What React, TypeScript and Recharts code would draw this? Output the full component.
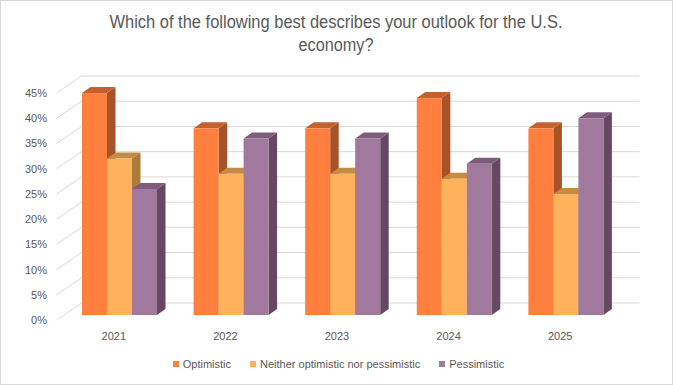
import React from 'react';
import { BarChart, Bar, XAxis, YAxis, CartesianGrid, Legend } from 'recharts';

const years = ['2021', '2022', '2023', '2024', '2025'];
const optimistic = [44, 37, 37, 43, 37];
const neither = [31, 28, 28, 27, 24];
const pessimistic = [25, 35, 35, 30, 39];
const yTicks = [0, 5, 10, 15, 20, 25, 30, 35, 40, 45];

const seriesNames = ['Optimistic', 'Neither optimistic nor pessimistic', 'Pessimistic'];
const frontColors = ['#FF7F3F', '#FFB15C', '#A0799C'];
const topColors = ['#C5602F', '#C48B42', '#7F5C7C'];
const sideColors = ['#A8522A', '#AD7A38', '#664863'];

const data = years.map((year, i) => ({
  year,
  optimistic: optimistic[i],
  neither: neither[i],
  pessimistic: pessimistic[i],
}));

const DX = 8.5;
const DY = 6;
const BACK_DX = 17.6;
const BACK_DY = 12;
const FRONT_DX = 7.4;
const FRONT_DY = 5;
const FONT = "'Liberation Sans', Arial, sans-serif";
const TEXT = '#595959';
const GRID = '#d9d9d9';

const make3D = (idx: number) => (props: any) => {
  const { x, y, width, height } = props;
  if (width == null || height == null) return <g />;
  const top = `${x},${y} ${x + DX},${y - DY} ${x + width + DX},${y - DY} ${x + width},${y}`;
  const side = `${x + width},${y} ${x + width + DX},${y - DY} ${x + width + DX},${y + height - DY} ${x + width},${y + height}`;
  return (
    <g>
      <polygon points={side} fill={sideColors[idx]} />
      <polygon points={top} fill={topColors[idx]} />
      <rect x={x} y={y} width={width} height={height} fill={frontColors[idx]} />
    </g>
  );
};

const gridLine = (props: any) => {
  const { x1, x2, y1, key } = props;
  return (
    <g key={key}>
      <line x1={x1 + BACK_DX} x2={x2 + BACK_DX} y1={y1 - BACK_DY} y2={y1 - BACK_DY} stroke={GRID} strokeWidth={1} />
      <line x1={x1 - FRONT_DX} y1={y1 + FRONT_DY} x2={x1 + BACK_DX} y2={y1 - BACK_DY} stroke={GRID} strokeWidth={1} />
    </g>
  );
};

const YTick = (props: any) => {
  const { x, y, payload } = props;
  return (
    <text x={x - 17} y={y + FRONT_DY + 4} textAnchor="end" fill={TEXT} fontSize={11} fontFamily={FONT}>
      {payload.value}%
    </text>
  );
};

const XTick = (props: any) => {
  const { x, y, payload } = props;
  return (
    <text x={x - 6} y={y + 25} textAnchor="middle" fill={TEXT} fontSize={11} fontFamily={FONT}>
      {payload.value}
    </text>
  );
};

const LegendContent = () => (
  <div style={{ display: 'flex', justifyContent: 'center', fontFamily: FONT, fontSize: 11, color: TEXT, paddingLeft: 4 }}>
    {seriesNames.map((name, i) => (
      <div key={name} style={{ display: 'flex', alignItems: 'center', marginRight: i < 2 ? 19 : 0 }}>
        <span style={{ display: 'inline-block', width: 6, height: 6, background: frontColors[i], marginRight: 4 }} />
        <span>{name}</span>
      </div>
    ))}
  </div>
);

export default function App() {
  return (
    <div style={{ position: 'absolute', left: 0, top: 0, width: 673, height: 385, background: '#fff' }}>
      <BarChart
        width={673}
        height={385}
        data={data}
        margin={{ top: 88, right: 51, bottom: 69, left: 63 }}
        barGap={0}
        barSize={25}
      >
        <CartesianGrid vertical={false} horizontal={gridLine} stroke={GRID} />
        <XAxis dataKey="year" axisLine={false} tickLine={false} tickSize={0} tickMargin={0} height={1} tick={<XTick />} interval={0} />
        <YAxis
          domain={[0, 45]}
          ticks={yTicks}
          width={1}
          axisLine={false}
          tickLine={false}
          tickSize={0}
          tickMargin={0}
          tick={<YTick />}
          interval={0}
        />
        <Legend
          layout="horizontal"
          verticalAlign="middle"
          align="center"
          wrapperStyle={{ top: 358, left: 0, width: 673 }}
          content={<LegendContent />}
        />
        <Bar dataKey="optimistic" name={seriesNames[0]} fill={frontColors[0]} shape={make3D(0)} isAnimationActive={false} />
        <Bar dataKey="neither" name={seriesNames[1]} fill={frontColors[1]} shape={make3D(1)} isAnimationActive={false} />
        <Bar dataKey="pessimistic" name={seriesNames[2]} fill={frontColors[2]} shape={make3D(2)} isAnimationActive={false} />
      </BarChart>
      <svg width={673} height={70} style={{ position: 'absolute', left: 0, top: 0, pointerEvents: 'none' }}>
        <text x={336} y={28} textAnchor="middle" fill={TEXT} fontSize={18} fontFamily="'Liberation Sans Narrow', 'Liberation Sans', Arial, sans-serif" textLength={453} lengthAdjust="spacingAndGlyphs">
          Which of the following best describes your outlook for the U.S.
        </text>
        <text x={336} y={51} textAnchor="middle" fill={TEXT} fontSize={18} fontFamily="'Liberation Sans Narrow', 'Liberation Sans', Arial, sans-serif" textLength={75} lengthAdjust="spacingAndGlyphs">
          economy?
        </text>
      </svg>
      <div style={{ position: 'absolute', left: 0, top: 0, width: 673, height: 385, boxSizing: 'border-box', border: '1px solid #d9d9d9', pointerEvents: 'none' }} />
    </div>
  );
}
